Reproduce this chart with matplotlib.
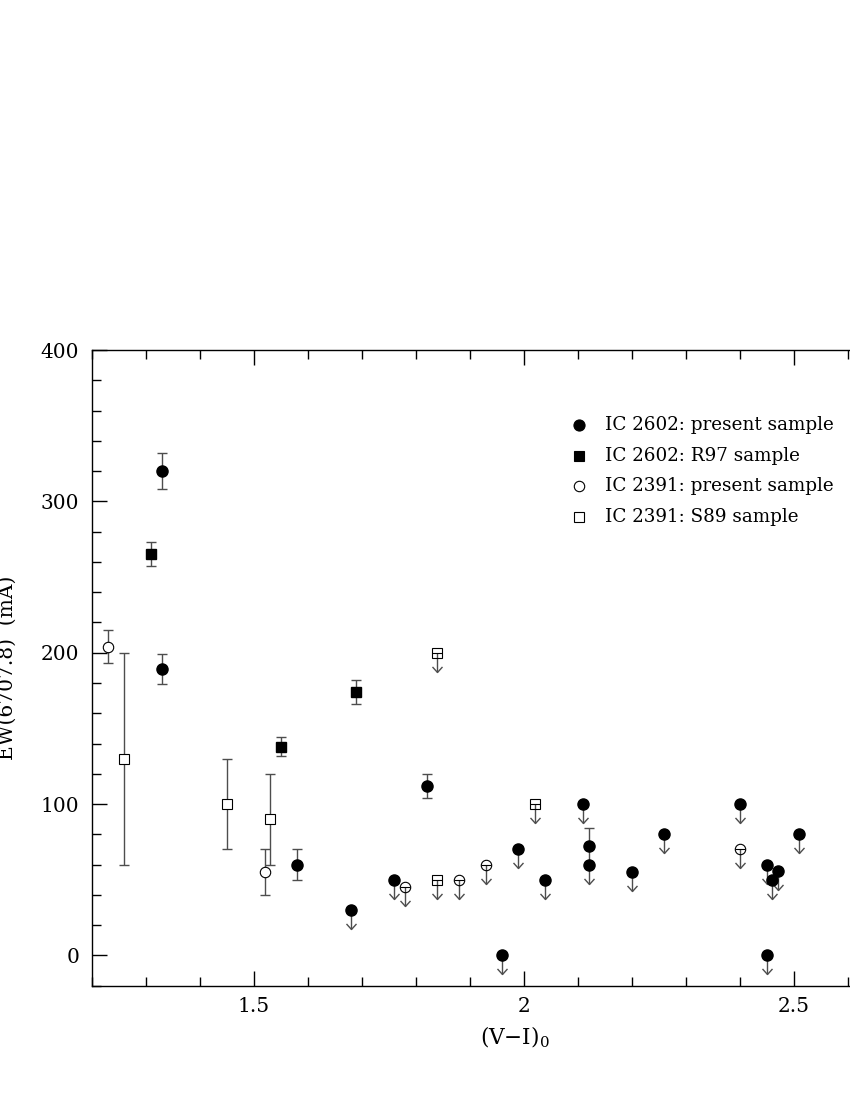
import numpy as np
import matplotlib
matplotlib.use("Agg")
import matplotlib.pyplot as plt
from matplotlib.path import Path
from matplotlib.ticker import MultipleLocator

plt.rcParams['font.family'] = ['DejaVu Serif']
plt.rcParams['mathtext.fontset'] = 'dejavuserif'

# ---------------- data ----------------
# IC 2602 present sample (filled circles) - detections
ic2602_det_x = [1.33, 1.33, 1.58, 1.82, 2.12]
ic2602_det_y = [320, 189, 60, 112, 72]
ic2602_det_e = [12, 10, 10, 8, 12]
# IC 2602 present sample - upper limits
ic2602_ul_x = [1.68, 1.76, 1.96, 1.99, 2.04, 2.11, 2.12, 2.20, 2.26, 2.40, 2.45, 2.45, 2.46, 2.47, 2.51]
ic2602_ul_y = [30, 50, 0, 70, 50, 100, 60, 55, 80, 100, 60, 0, 50, 56, 80]
# IC 2602 R97 sample (filled squares)
r97_x = [1.31, 1.55, 1.69]
r97_y = [265, 138, 174]
r97_e = [8, 6, 8]
# IC 2391 present sample (open circles)
ic2391_det_x = [1.23, 1.52]
ic2391_det_y = [204, 55]
ic2391_det_e = [11, 15]
ic2391_ul_x = [1.78, 1.88, 1.93, 2.40]
ic2391_ul_y = [45, 50, 60, 70]
# IC 2391 S89 sample (open squares)
s89_det_x = [1.26, 1.45, 1.53]
s89_det_y = [130, 100, 90]
s89_det_e = [70, 30, 30]
s89_ul_x = [1.84, 1.84, 2.02]
s89_ul_y = [200, 50, 100]

legend_labels = ["IC 2602: present sample", "IC 2602: R97 sample",
                 "IC 2391: present sample", "IC 2391: S89 sample"]

# ---------------- figure ----------------
W, H = 850, 1100
fig = plt.figure(figsize=(W / 100, H / 100), dpi=100)
left, right, bottom, top = 91.7, 938.0, 985.7, 350.0
ax = fig.add_axes([left / W, 1 - bottom / H, (right - left) / W, (bottom - top) / H])
ax.set_xlim(1.2, 2.767)
ax.set_ylim(-20, 400)

err_col = '0.3'
arrow_len = 12.5
arrow_head = Path([(-0.9, 1.0), (0, 0), (0.9, 1.0)],
                  [Path.MOVETO, Path.LINETO, Path.LINETO])


def upper_limits(xs, ys):
    xs = np.asarray(xs, float)
    ys = np.asarray(ys, float)
    ax.vlines(xs, ys - arrow_len, ys, color=err_col, lw=1.0, zorder=2)
    ax.plot(xs, ys - arrow_len, ls='none', marker=arrow_head, ms=8,
            mfc='none', mec=err_col, mew=1.0, zorder=2)


def detections(xs, ys, es):
    ax.errorbar(xs, ys, yerr=es, fmt='none', ecolor=err_col, elinewidth=1.0,
                capsize=3.3, capthick=1.0, zorder=2)


# error bars / arrows
detections(ic2602_det_x, ic2602_det_y, ic2602_det_e)
detections(r97_x, r97_y, r97_e)
detections(ic2391_det_x, ic2391_det_y, ic2391_det_e)
detections(s89_det_x, s89_det_y, s89_det_e)
upper_limits(ic2602_ul_x, ic2602_ul_y)
upper_limits(ic2391_ul_x, ic2391_ul_y)
upper_limits(s89_ul_x, s89_ul_y)

# markers
ax.plot(ic2602_det_x, ic2602_det_y, 'o', ms=8, mfc='black', mec='black', zorder=4)
ax.plot(ic2602_ul_x, ic2602_ul_y, 'o', ms=8, mfc='black', mec='black', zorder=4)
ax.plot(r97_x, r97_y, 's', ms=7, mfc='black', mec='black', zorder=4)
ax.plot(ic2391_det_x, ic2391_det_y, 'o', ms=7.5, mfc='white', mec='black', mew=0.8, zorder=4)
ax.plot(ic2391_ul_x, ic2391_ul_y, 'o', ms=7.5, mfc='none', mec='black', mew=0.8, zorder=4)
ax.plot(ic2391_ul_x, ic2391_ul_y, '_', ms=7.5, mec='black', mew=0.8, zorder=4)
ax.plot(s89_det_x, s89_det_y, 's', ms=7, mfc='white', mec='black', mew=0.8, zorder=4)
ax.plot(s89_ul_x, s89_ul_y, 's', ms=7, mfc='none', mec='black', mew=0.8, zorder=4)
ax.plot(s89_ul_x, s89_ul_y, '_', ms=7, mec='black', mew=0.8, zorder=4)

# legend (manual)
leg_markers = [('o', 'black', 8), ('s', 'black', 7), ('o', 'white', 7.5), ('s', 'white', 7)]
leg_y = [0.882, 0.834, 0.7855, 0.738]
for (m, fc, ms), yy, lab in zip(leg_markers, leg_y, legend_labels):
    ax.plot([0.5755], [yy], marker=m, ms=ms, mfc=fc, mec='black', mew=0.8,
            transform=ax.transAxes, clip_on=False, ls='none', zorder=5)
    ax.text(0.6065, yy, lab, transform=ax.transAxes, fontsize=13.2,
            va='center', ha='left')

# ticks
ax.xaxis.set_major_locator(MultipleLocator(0.5))
ax.xaxis.set_minor_locator(MultipleLocator(0.1))
ax.yaxis.set_major_locator(MultipleLocator(100))
ax.yaxis.set_minor_locator(MultipleLocator(20))
ax.xaxis.set_major_formatter(matplotlib.ticker.FuncFormatter(lambda v, p: f"{v:g}"))
ax.tick_params(which='both', direction='in', top=True, right=True, labelsize=14.5)
ax.tick_params(which='major', length=10.5, width=1.0)
ax.tick_params(which='minor', length=6.5, width=1.0)
ax.tick_params(axis='y', pad=9)
ax.tick_params(axis='x', pad=8)
for s in ax.spines.values():
    s.set_linewidth(1.0)

ax.set_xlabel(r"(V$-$I)$_0$", fontsize=15.5)
ax.xaxis.set_label_coords(0.5, -0.062)
ax.set_ylabel("EW(6707.8)  (mA)", fontsize=14.5)
ax.yaxis.set_label_coords(-0.088, 0.5)

fig.savefig("out.png", dpi=100)
